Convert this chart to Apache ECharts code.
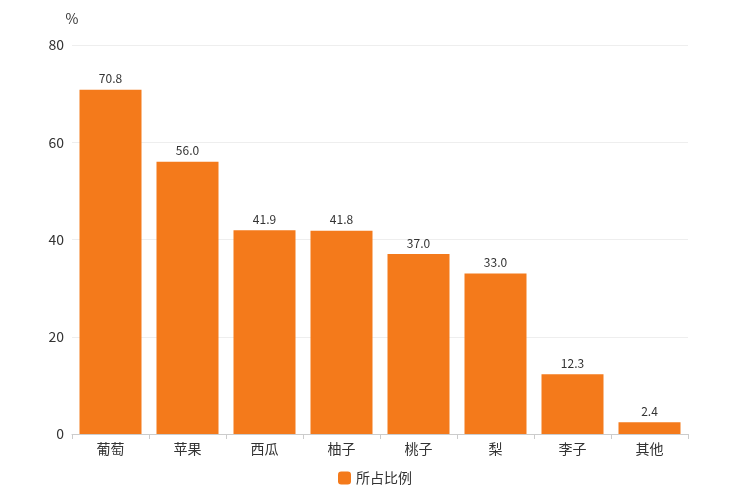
<!DOCTYPE html>
<html><head><meta charset="utf-8">
<script src="https://cdn.jsdelivr.net/npm/echarts@6/dist/echarts.min.js"></script>
<style>html,body{margin:0;padding:0;background:#fff}#c{width:750px;height:500px}</style>
</head><body><div id="c"></div>
<script>
const categories = ['葡萄','苹果','西瓜','柚子','桃子','梨','李子','其他'];
const values = [70.8, 56.0, 41.9, 41.8, 37.0, 33.0, 12.3, 2.4];
const seriesName = '所占比例';
const chart = echarts.init(document.getElementById('c'));
chart.setOption({
  animation: false,
  textStyle: {fontFamily: 'Noto Sans CJK SC'},
  grid: {left: 72, right: 62, top: 45, bottom: 66},
  legend: {bottom: 10, itemWidth: 13, itemHeight: 13, textStyle: {fontSize: 14, color: '#333'}, data: [seriesName]},
  xAxis: {type: 'category', data: categories,
    axisLine: {lineStyle: {color: '#ccc'}}, axisTick: {show: true, alignWithLabel: false, lineStyle: {color: '#ccc'}},
    axisLabel: {fontSize: 14, color: '#333'}},
  yAxis: {type: 'value', min: 0, max: 80, interval: 20, name: '%',
    nameTextStyle: {fontSize: 14, color: '#333', align: 'center', padding: [0, 0, 4, 0]},
    axisLabel: {fontSize: 14, color: '#333'},
    splitLine: {lineStyle: {color: '#eee'}}},
  series: [{name: seriesName, type: 'bar', data: values, barWidth: 62,
    itemStyle: {color: '#F47A1B'},
    label: {show: true, position: 'top', fontSize: 12, color: '#333', formatter: p => p.value.toFixed(1)}}]
});
</script></body></html>
